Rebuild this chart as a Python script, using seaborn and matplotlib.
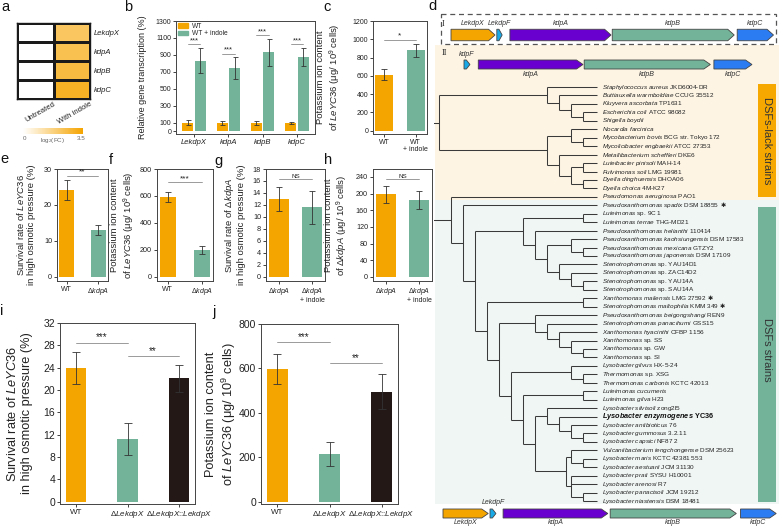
import numpy as np
import pandas as pd
import matplotlib
matplotlib.use('Agg')
import matplotlib.pyplot as plt
import seaborn as sns
from matplotlib.patches import Rectangle, Polygon, Patch
from matplotlib.colors import LinearSegmentedColormap

sns.set_style('ticks')
plt.rcParams['font.family'] = ['Liberation Sans', 'DejaVu Sans']
plt.rcParams['mathtext.fontset'] = 'custom'
plt.rcParams['mathtext.rm'] = 'Liberation Sans'
plt.rcParams['mathtext.it'] = 'Liberation Sans:italic'
plt.rcParams['mathtext.bf'] = 'Liberation Sans:bold'
plt.rcParams['mathtext.bfit'] = 'Liberation Sans:italic:bold'

ORANGE = '#f5a500'
GREEN = '#72b39a'
DARK = '#231815'

# ---- datos ----
# a: heatmap log2(FC)
hm_rows = ['LekdpX', 'kdpA', 'kdpB', 'kdpC']
hm_untreated = [0, 0, 0, 0]
hm_indole = [2.2, 2.4, 2.6, 3.0]

# b: transcripcion relativa
b_genes = ['LekdpX', 'kdpA', 'kdpB', 'kdpC']
b_wt = [100, 97, 97, 95]
b_wt_err = [30, 20, 20, 10]
b_ind = [832, 740, 932, 872]
b_ind_err = [145, 130, 160, 105]
b_sig = [1024, 912, 1132, 1024]

# c
c_labels = ['WT', 'WT\n+ indole']
c_vals = [615, 878]
c_err = [57, 70]

# e, f
ef_labels = ['WT', 'Δ$\\it{kdpA}$']
e_vals = [24.2, 13.0]
e_err = [2.8, 1.5]
f_vals = [596, 199]
f_err = [37, 30]

# g, h
gh_labels = ['Δ$\\it{kdpA}$', 'Δ$\\it{kdpA}$\n+ indole']
g_vals = [13.0, 11.6]
g_err = [2.0, 2.8]
h_vals = [198, 184]
h_err = [21, 22]

# i, j
ij_labels = ['WT', 'Δ$\\it{LekdpX}$', 'Δ$\\it{LekdpX}$::$\\it{LekdpX}$']
i_vals = [24.0, 11.3, 22.1]
i_err = [2.85, 2.85, 2.4]
j_vals = [598, 215, 495]
j_err = [66, 54, 78]

# d: arbol (nivel del nodo, hijos); hojas = indices
leaves = [
    ("Staphylococcus aureus", "JKD6004-DR"),
    ("Buttiauxella warmboldiae", "CCUG 35512"),
    ("Kluyvera ascorbata", "TP1631"),
    ("Escherichia coli", "ATCC 98082"),
    ("Shigella boydii", ""),
    ("Nocardia farcinica", ""),
    ("Mycobacterium bovis", "BCG str. Tokyo 172"),
    ("Mycolicibacter engbaekii", "ATCC 27353"),
    ("Metallibacterium scheffleri", "DKE6"),
    ("Luteibacter pinisoli", "MAH-14"),
    ("Fulvimonas soli", "LMG 19981"),
    ("Dyella dinghuensis", "DHOA06"),
    ("Dyella choica", "4M-K27"),
    ("Pseudomonas aeruginosa", "PAO1"),
    ("Pseudoxanthomonas spadix", "DSM 18855"),
    ("Luteimonas", "sp. 9C 1"),
    ("Luteimonas terrae", "THG-MD21"),
    ("Pseudoxanthomonas helianthi", "110414"),
    ("Pseudoxanthomonas kaohsiungensis", "DSM 17583"),
    ("Pseudoxanthomonas mexicana", "GTZY2"),
    ("Pseudoxanthomonas japonensis", "DSM 17109"),
    ("Stenotrophomonas", "sp. YAU14D1"),
    ("Stenotrophomonas", "sp. ZAC14D2"),
    ("Stenotrophomonas", "sp. YAU14A"),
    ("Stenotrophomonas", "sp. SAU14A"),
    ("Xanthomonas maliensis", "LMG 27592"),
    ("Stenotrophomonas maltophilia", "KMM 349"),
    ("Pseudoxanthomonas beigongshangi", "REN9"),
    ("Stenotrophomonas panacihumi", "GSS15"),
    ("Xanthomonas hyacinthi", "CFBP 1156"),
    ("Xanthomonas", "sp. SS"),
    ("Xanthomonas", "sp. GW"),
    ("Xanthomonas", "sp. SI"),
    ("Lysobacter gilvus", "HX-5-24"),
    ("Thermomonas", "sp. XSG"),
    ("Thermomonas carbonis", "KCTC 42013"),
    ("Luteimonas cucumeris", ""),
    ("Luteimonas gilva", "H23"),
    ("Lysobacter silvisoli", "zong2l5"),
    ("Lysobacter enzymogenes", "YC36"),
    ("Lysobacter antibioticus", "76"),
    ("Lysobacter gummosus", "3.2.11"),
    ("Lysobacter capsici", "NF87 2"),
    ("Vulcaniibacterium tengchongense", "DSM 25623"),
    ("Lysobacter maris", "KCTC 42381 553"),
    ("Lysobacter aestuarii", "JCM 31130"),
    ("Lysobacter prati", "SYSU H10001"),
    ("Lysobacter arenosi", "R7"),
    ("Lysobacter panacisoli", "JCM 19212"),
    ("Lysobacter niastensis", "DSM 18481"),
]
star_leaves = [14, 25, 26]
bold_leaf = 39

clade_a = (8, [0, (9, [1, (10, [2, (11, [3, 4])])])])
clade_b = (8, [(10, [5, (11, [6, 7])]),
               (9, [8, (10, [(11, [9, 10]), (11, [11, 12])])])])
clade_c = (0, [13, (1, [14, (2, [
    (6, [(11, [15, 16]),
         (7, [17, (8, [(10, [18, (11, [19, 20])]),
                       (9, [21, (10, [22, (11, [23, 24])])])])])]),
    (3, [(11, [25, 26]),
         (4, [(7, [27, (8, [28, (9, [29, (10, [30, (11, [31, 32])])])])]),
              (5, [(10, [33, (11, [34, 35])]),
                   (6, [(11, [36, 37]),
                        (7, [(8, [38, (9, [39, (10, [40, (11, [41, 42])])])]),
                             (9.6, [(10, [43, (11, [44, 45])]),
                                    (10, [46, 47, (11, [48, 49])])])])])])])])])])])
tree = (-1.6, [(-1, [clade_a, clade_b]), clade_c])

# operones (gen, inicio kb, fin kb)
operon_1 = [('LekdpX', 0, 0.74), ('LekdpF', 0.77, 0.86), ('kdpA', 0.99, 2.69),
            ('kdpB', 2.71, 4.76), ('kdpC', 4.81, 5.42)]
operon_2 = [('kdpF', 0, 0.10), ('kdpA', 0.24, 2.0), ('kdpB', 2.02, 4.14), ('kdpC', 4.2, 4.84)]
operon_3 = [('LekdpX', 0, 0.76), ('LekdpF', 0.79, 0.89), ('kdpA', 1.01, 2.77),
            ('kdpB', 2.81, 4.93), ('kdpC', 5.0, 5.6)]
gene_colors = {'LekdpX': ORANGE, 'LekdpF': '#19a9e6', 'kdpF': '#19a9e6',
               'kdpA': '#6a00cf', 'kdpB': GREEN, 'kdpC': '#2b7cf2'}

# ---- figura ----
W, H = 779, 531
fig = plt.figure(figsize=(W / 100, H / 100), dpi=100)


def rect(x0, y0, x1, y1):
    return [x0 / W, 1 - y1 / H, (x1 - x0) / W, (y1 - y0) / H]


def style_axes(ax, yt_fs):
    for sp in ax.spines.values():
        sp.set_visible(True)
        sp.set_color('#444444')
        sp.set_linewidth(0.7)
    ax.tick_params(axis='both', length=2, width=0.6, pad=1.5, colors='#222222', labelsize=yt_fs)


def bar_panel(box, labels, vals, errs, cols, ylim, yticks, width, sigs, ylabel, lab_x,
              yt_fs, xt_fs, lab_fs, cap):
    ax = fig.add_axes(rect(*box))
    df = pd.DataFrame({'grp': [str(k) for k in range(len(vals))], 'val': vals})
    sns.barplot(data=df, x='grp', y='val', hue='grp', palette=dict(zip(df.grp, cols)),
                width=width, errorbar=None, legend=False, ax=ax, linewidth=0, saturation=1)
    ax.errorbar(range(len(vals)), vals, yerr=errs, fmt='none', ecolor='#333333',
                elinewidth=0.6, capsize=cap, capthick=0.6)
    for x0, x1, y, txt, fs in sigs:
        ax.plot([x0, x1], [y, y], color='#8a8a8a', lw=0.6)
        ax.text((x0 + x1) / 2, y, txt, ha='center', va='bottom', fontsize=fs, color='#222222')
    ax.set_ylim(ylim)
    ax.set_yticks(yticks)
    ax.set_xticks(range(len(vals)))
    ax.set_xticklabels(labels, fontsize=xt_fs, linespacing=1.0)
    ax.set_xlabel('')
    ax.set_ylabel(ylabel, fontsize=lab_fs, linespacing=1.2, color='#222222')
    ax.yaxis.set_label_coords(lab_x, 0.5)
    style_axes(ax, yt_fs)
    ax.tick_params(axis='x', labelsize=xt_fs)
    return ax


# a: heatmap
ax_a = fig.add_axes(rect(17, 23, 90, 99))
cax = fig.add_axes(rect(23, 128, 83, 134))
hm = pd.DataFrame({'Untreated': hm_untreated, 'With indole': hm_indole}, index=hm_rows)
cmap = LinearSegmentedColormap.from_list('wo', ['#ffffff', '#f5a400'])
sns.heatmap(hm, ax=ax_a, cmap=cmap, vmin=0, vmax=3.5, linewidths=1, linecolor='#1a1a1a',
            cbar_ax=cax, cbar_kws={'orientation': 'horizontal'})
ax_a.yaxis.tick_right()
ax_a.set_yticklabels(hm_rows, rotation=0, style='italic', fontsize=5.5, color='#222222')
ax_a.set_xticks([])
for k, name in enumerate(hm.columns):
    ax_a.text(k + 1.0, 4.08, name, rotation=30, ha='right', va='top', rotation_mode='anchor',
              fontsize=5.5, color='#222222')
ax_a.tick_params(length=0, pad=3)
for sp in ax_a.spines.values():
    sp.set_visible(True)
    sp.set_linewidth(1)
    sp.set_color('#1a1a1a')
cax.set_xticks([])
cbar = ax_a.collections[0].colorbar
if cbar is not None:
    cbar.outline.set_visible(False)
cax.text(0.03, -0.4, '0', transform=cax.transAxes, ha='center', va='top', fontsize=4.5, color='#666666')
cax.text(0.5, -0.4, 'log$_2$(FC)', transform=cax.transAxes, ha='center', va='top', fontsize=4.5, color='#666666')
cax.text(0.97, -0.4, '3.5', transform=cax.transAxes, ha='center', va='top', fontsize=4.5, color='#666666')

# b
ax_b = fig.add_axes(rect(176, 21, 315, 134))
b_df = pd.DataFrame({'gene': b_genes * 2,
                     'cond': ['WT'] * 4 + ['WT + indole'] * 4,
                     'val': b_wt + b_ind})
sns.barplot(data=b_df, x='gene', y='val', hue='cond', palette={'WT': ORANGE, 'WT + indole': GREEN},
            width=0.72, gap=0.12, errorbar=None, legend=False, ax=ax_b, linewidth=0, saturation=1)
xb = np.arange(len(b_genes))
ax_b.errorbar(xb - 0.18, b_wt, yerr=b_wt_err, fmt='none', ecolor='#333333', elinewidth=0.6, capsize=1.8, capthick=0.6)
ax_b.errorbar(xb + 0.18, b_ind, yerr=b_ind_err, fmt='none', ecolor='#333333', elinewidth=0.6, capsize=1.8, capthick=0.6)
for k, y in enumerate(b_sig):
    ax_b.plot([k - 0.18, k + 0.18], [y, y], color='#8a8a8a', lw=0.6)
    ax_b.text(k, y, '***', ha='center', va='bottom', fontsize=5.5)
ax_b.set_ylim(-35, 1300)
ax_b.set_yticks([0, 100, 300, 500, 700, 900, 1100, 1300])
ax_b.set_xticks(xb)
ax_b.set_xticklabels(b_genes, style='italic')
ax_b.set_xlabel('')
ax_b.set_ylabel('Relative gene transcription (%)', fontsize=6.5, color='#222222')
ax_b.yaxis.set_label_coords(-0.21, 0.5)
style_axes(ax_b, 5)
ax_b.tick_params(axis='x', labelsize=5.5)
ax_b.legend(handles=[Patch(color=ORANGE, label='WT'), Patch(color=GREEN, label='WT + indole')],
            loc='upper left', frameon=False, fontsize=4.8, handlelength=1.6, handleheight=0.7,
            handletextpad=0.5, labelspacing=0.1, borderaxespad=0.15, borderpad=0.1)

# c
bar_panel((373, 21, 427, 134), c_labels, c_vals, c_err, [ORANGE, GREEN], (-35, 1200),
          range(0, 1201, 200), 0.55, [(0, 1, 995, '*', 6)],
          'Potassium ion content\nof $\\it{LeYC36}$ (μg/ 10$^{9}$ cells)', -0.56, 5, 5, 6.8, 2)

# e, f, g, h
lab_ef = 'Survival rate of $\\it{LeYC36}$\nin high osmotic pressure (%)'
bar_panel((57, 169, 108, 281), ef_labels, e_vals, e_err, [ORANGE, GREEN], (-1.2, 30),
          [0, 10, 20, 30], 0.46, [(0, 1, 28.1, '**', 6)], lab_ef, -0.41, 5.2, 5, 6.8, 2)
bar_panel((157, 169, 213, 281), ef_labels, f_vals, f_err, [ORANGE, GREEN], (-30, 800),
          range(0, 801, 200), 0.46, [(0, 1, 700, '***', 6)],
          'Potassium ion content\nof $\\it{LeYC36}$ (μg/ 10$^{9}$ cells)', -0.36, 5.2, 5, 6.8, 2)
bar_panel((266, 169, 325, 281), gh_labels, g_vals, g_err, [ORANGE, GREEN], (-0.7, 18),
          range(0, 19, 2), 0.6, [(0, 1, 16.3, 'NS', 4.5)],
          'Survival rate of Δ$\\it{kdpA}$\nin high osmotic pressure (%)', -0.34, 5.2, 5, 6.8, 2)
bar_panel((373, 169, 432, 281), gh_labels, h_vals, h_err, [ORANGE, GREEN], (-10, 259),
          range(0, 241, 40), 0.6, [(0, 1, 235, 'NS', 4.5)],
          'Potassium ion content\nof Δ$\\it{kdpA}$ (μg/ 10$^{9}$ cells)', -0.39, 5.2, 5, 6.8, 2)

# i, j
bar_panel((60, 323, 195, 504), ij_labels, i_vals, i_err, [ORANGE, GREEN, DARK], (-0.4, 32),
          range(0, 33, 4), 0.39, [(0, 1, 28.5, '***', 7), (1, 2, 26.1, '**', 7)],
          lab_ef, -0.20, 7.5, 5.8, 9.2, 3)
bar_panel((261, 324, 398, 504), ij_labels, j_vals, j_err, [ORANGE, GREEN, DARK], (-10, 800),
          range(0, 801, 200), 0.39, [(0, 1, 720, '***', 7), (1, 2, 623, '**', 7)],
          'Potassium ion content\nof $\\it{LeYC36}$ (μg/ 10$^{9}$ cells)', -0.17, 7.5, 5.8, 9.2, 3)

# d: arbol y operones, en coordenadas de pixel
ax_d = fig.add_axes(rect(434, 0, 779, 531))
ax_d.set_xlim(434, 779)
ax_d.set_ylim(531, 0)
ax_d.axis('off')

ax_d.add_patch(Rectangle((435, 44.5), 344, 155, color='#fdf4e4', lw=0, zorder=0))
ax_d.add_patch(Rectangle((435, 199.5), 344, 304, color='#f0f6f3', lw=0, zorder=0))
ax_d.add_patch(Rectangle((441, 14), 335, 30, fill=False, ls=(0, (4, 3)), ec='#555555', lw=0.9))
ax_d.text(442, 23.5, 'I', fontsize=6, family='Liberation Serif', va='center', ha='left')
ax_d.text(442, 53, 'II', fontsize=6, family='Liberation Serif', va='center', ha='left')

ax_d.add_patch(Rectangle((758, 84), 18, 113, color='#f6a800', lw=0))
ax_d.text(767, 140.5, 'DSFs-lack strains', rotation=270, ha='center', va='center', fontsize=8, color='#333333')
ax_d.add_patch(Rectangle((758, 207), 18, 295, color=GREEN, lw=0))
ax_d.text(767, 350, 'DSFs strains', rotation=270, ha='center', va='center', fontsize=8, color='#333333')

leaf_y = 87 + 8.45 * np.arange(len(leaves))
LEAF_LVL = 12.17


def lx(level):
    return 450.67 + 12 * level


def draw(node):
    if isinstance(node, int):
        return leaf_y[node], LEAF_LVL
    level, kids = node
    ys = []
    for kid in kids:
        ky, kl = draw(kid)
        ax_d.plot([lx(level), lx(kl)], [ky, ky], color='#3a3a3a', lw=0.75, solid_capstyle='butt')
        ys.append(ky)
    ax_d.plot([lx(level)] * 2, [ys[0], ys[-1]], color='#3a3a3a', lw=0.75, solid_capstyle='butt')
    return (ys[0] + ys[-1]) / 2, level


draw(tree)

leaf_texts = []
for k, (it, plain) in enumerate(leaves):
    name = it.replace(' ', '\\ ')
    if k == bold_leaf:
        s = '$\\mathbfit{' + name + '}$ ' + plain
        t = ax_d.text(601.5, leaf_y[k], s, fontsize=5.3, weight='bold', va='center', ha='left', color='#111111')
    else:
        s = '$\\mathit{' + name + '}$' + (' ' + plain if plain else '')
        t = ax_d.text(601.5, leaf_y[k], s, fontsize=4.6, va='center', ha='left', color='#222222')
    leaf_texts.append(t)


def gene_track(genes, x0, yc, h, above, below):
    scale = 59.5
    for name, s, e in genes:
        gx0 = x0 + s * scale
        gx1 = x0 + e * scale
        hl = min(6.5, 0.6 * (gx1 - gx0))
        pts = [(gx0, yc - h / 2), (gx1 - hl, yc - h / 2), (gx1, yc), (gx1 - hl, yc + h / 2), (gx0, yc + h / 2)]
        ax_d.add_patch(Polygon(pts, closed=True, fc=gene_colors[name], ec='#444444', lw=0.6))
        if name in above:
            ax_d.text((gx0 + gx1) / 2, yc - h / 2 - 2.5, name, ha='center', va='bottom', fontsize=5, style='italic', color='#333333')
        if name in below:
            ax_d.text((gx0 + gx1) / 2, yc + h / 2 + 1.5, name, ha='center', va='top', fontsize=5, style='italic', color='#333333')


gene_track(operon_1, 451, 35, 11.5, ['LekdpX', 'LekdpF', 'kdpA', 'kdpB', 'kdpC'], [])
gene_track(operon_2, 464, 64.5, 9, ['kdpF'], ['kdpA', 'kdpB', 'kdpC'])
gene_track(operon_3, 443, 513.5, 9, ['LekdpF'], ['LekdpX', 'kdpA', 'kdpB', 'kdpC'])

# etiquetas de panel
for letter, x, y in [('a', 1, 7), ('b', 124, 7), ('c', 323, 7), ('d', 428, 6),
                     ('e', 0, 159), ('f', 109, 160), ('g', 214, 161), ('h', 324, 160),
                     ('i', 0, 311), ('j', 212, 312)]:
    fig.text(x / W, 1 - y / H, letter, fontsize=10.5, ha='left', va='center', color='#111111')

# asteriscos tras algunas hojas
fig.canvas.draw()
renderer = fig.canvas.get_renderer()
inv = ax_d.transData.inverted()
for k in star_leaves:
    bb = leaf_texts[k].get_window_extent(renderer)
    xr, _ = inv.transform((bb.x1, bb.y0))
    ax_d.text(xr + 1.5, leaf_y[k], '✱', fontsize=4.5, family='DejaVu Sans', va='center', ha='left', color='#222222')

fig.savefig('out.png', dpi=100)
